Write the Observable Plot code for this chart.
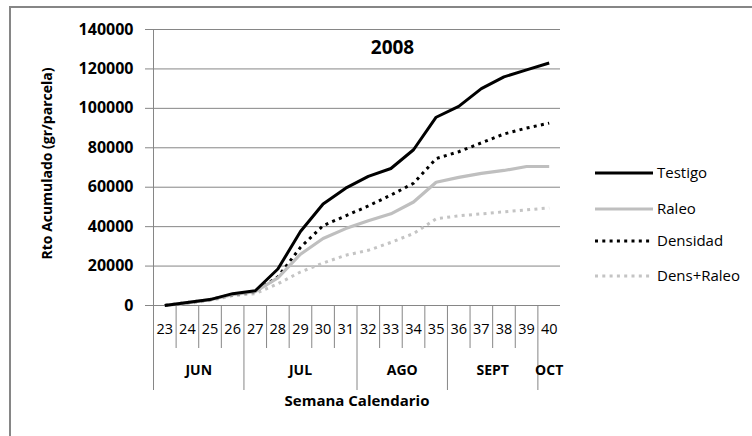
<!DOCTYPE html>
<html><head><meta charset="utf-8">
<script src="https://cdn.jsdelivr.net/npm/d3@7"></script>
<script src="https://cdn.jsdelivr.net/npm/@observablehq/plot@0.6"></script>
<style>
body{margin:0;background:#fff;}
#wrap{position:relative;width:752px;height:436px;overflow:hidden;font-family:"Open Sans",sans-serif;background:#fff;}
#frame{position:absolute;left:9px;top:6px;width:800px;height:500px;border-left:2px solid #868686;border-top:2px solid #868686;}
#chart{position:absolute;left:0;top:0;}
#legend{position:absolute;left:0;top:0;}
</style>
</head><body>
<div id="wrap"><div id="frame"></div><div id="chart"></div><svg id="legend" width="752" height="436"></svg></div>
<script>
const weeks = [23,24,25,26,27,28,29,30,31,32,33,34,35,36,37,38,39,40];
const testigo   = [0,1500,3000,6000,7500,18500,37500,51500,59500,65500,69500,79000,95500,101000,110000,116000,119500,123000];
const raleo     = [0,1500,3000,5500,7000,14000,26000,34000,39000,43000,46500,52500,62500,65000,67000,68500,70500,70500];
const densidad  = [0,1500,3000,5500,7000,14500,29500,40500,45500,50500,56000,62000,74500,78000,82500,87000,90000,92500];
const densRaleo = [0,1000,2500,5000,6000,11000,17000,21500,25500,28000,32000,36500,44000,45500,46500,47500,48500,49500];
const seriesNames = ["Testigo","Raleo","Densidad","Dens+Raleo"];
const monthNames = ["JUN","JUL","AGO","SEPT","OCT"];
const monthFirst = [23,27,32,36,40];
const monthLast  = [26,31,35,39,40];
const yTicks = [0,20000,40000,60000,80000,100000,120000,140000];
const chartTitle = "2008";
const yTitle = "Rto Acumulado (gr/parcela)";
const xTitle = "Semana Calendario";

const styles = [
  {stroke:"#000000", strokeWidth:3, dash:null},
  {stroke:"#bfbfbf", strokeWidth:3.2, dash:null},
  {stroke:"#000000", strokeWidth:3, dash:"3,4.3"},
  {stroke:"#c4c4c4", strokeWidth:3, dash:"3,4.3"}
];
const values = [testigo, raleo, densidad, densRaleo];
const rows = values.map(v => weeks.map((w,i) => ({week:w, value:v[i]})));
const bounds = weeks.map(w => w - 0.5);
const monthBounds = monthFirst.map(w => w - 0.5);
const months = monthNames.map((n,i) => ({name:n, center:(monthFirst[i]+monthLast[i])/2}));
const grey = "#868686";

const lineMarks = rows.map((r,i) => Plot.line(r, {x:"week", y:"value", stroke:styles[i].stroke, strokeWidth:styles[i].strokeWidth, strokeDasharray:styles[i].dash, strokeLinecap:"butt", strokeLinejoin:"round"}));

const plot = Plot.plot({
  width:752, height:436,
  marginLeft:153, marginRight:192, marginTop:29, marginBottom:131,
  style:{fontFamily:"'Open Sans', sans-serif", color:"#000", background:"transparent", overflow:"visible"},
  x:{type:"linear", domain:[weeks[0]-0.5, weeks[weeks.length-1]+0.5]},
  y:{domain:[0,140000]},
  marks:[
    Plot.ruleY(yTicks.filter(v => v > 0), {stroke:grey, strokeWidth:1, strokeOpacity:1}),
    Plot.ruleY([0], {stroke:grey, strokeWidth:1}),
    Plot.axisY(yTicks, {tickSize:8, tickPadding:12, stroke:grey, strokeOpacity:1, fontSize:16, fontWeight:"bold", tickFormat:d => String(d), label:null}),
    Plot.ruleX([weeks[0]-0.5], {stroke:grey, strokeWidth:1}),
    Plot.axisX(bounds.filter(b => !monthBounds.includes(b)), {tickSize:43, stroke:grey, strokeOpacity:1, tickFormat:() => "", label:null}),
    Plot.axisX(monthBounds, {tickSize:85, stroke:grey, strokeOpacity:1, tickFormat:() => "", label:null}),
    Plot.text(weeks, {x:d => d, text:d => String(d), frameAnchor:"bottom", dy:28, fontSize:14.5, fill:"#000"}),
    Plot.text(months, {x:"center", text:"name", frameAnchor:"bottom", dy:69, fontSize:14, fontWeight:"bold", fill:"#000"}),
    ...lineMarks.slice().reverse(),
    Plot.text([chartTitle], {frameAnchor:"top", dx:35.5, dy:11, fontSize:19, fontWeight:"bold", fill:"#000"}),
    Plot.text([yTitle], {frameAnchor:"left", textAnchor:"middle", dx:-106, dy:-4, rotate:-90, fontSize:14, fontWeight:"bold", fill:"#000"}),
    Plot.text([xTitle], {frameAnchor:"bottom", dy:100, fontSize:15, fontWeight:"bold", fill:"#000"})
  ]
});
document.getElementById("chart").appendChild(plot);

// legend
const lg = d3.select("#legend");
const legendY = [173, 209, 241, 276];
seriesNames.forEach((n,i) => {
  const l = lg.append("line").attr("x1",595).attr("x2",653).attr("y1",legendY[i]).attr("y2",legendY[i])
    .attr("stroke",styles[i].stroke).attr("stroke-width",styles[i].strokeWidth);
  if (styles[i].dash) l.attr("stroke-dasharray", styles[i].dash);
  lg.append("text").attr("x",657).attr("y",legendY[i]).attr("dy","0.35em")
    .attr("font-family","'Open Sans', sans-serif").attr("font-size",15).attr("fill","#000").text(n);
});
</script>
</body></html>
